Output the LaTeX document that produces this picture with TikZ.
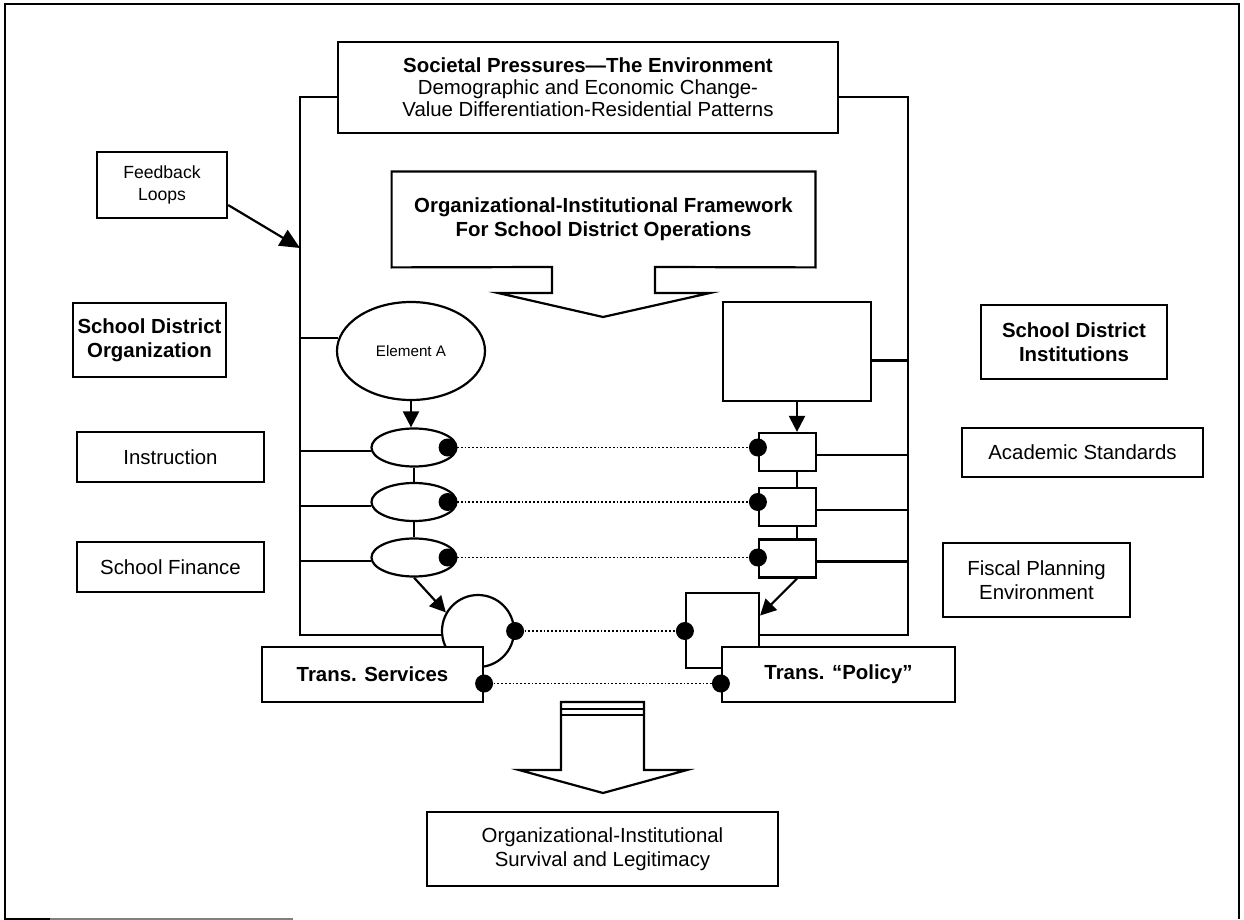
\documentclass[tikz,border=0pt]{standalone}
\usepackage{fontspec}
\setmainfont{Liberation Sans}
\usetikzlibrary{arrows.meta,shapes.geometric,positioning}
\tikzset{
    plain-box/.style = {draw, fill=white, line width=1.1pt, rectangle, align=center, inner sep=2pt, font=\fontsize{10.2}{12.2}\selectfont},
    bold-box/.style = {plain-box, font=\fontsize{10.2}{12.2}\selectfont\bfseries},
    oval/.style = {draw, fill=white, line width=1.1pt, ellipse, inner sep=0pt},
    tie/.style = {circle, fill=black, inner sep=0pt, minimum size=9pt},
    link/.style = {line width=1.1pt},
    flow/.style = {line width=1.1pt, -{Triangle[length=8pt,width=8pt]}},
    match/.style = {densely dotted, line width=0.9pt},
}

\begin{document}
\begin{tikzpicture}[x=0.5pt,y=-0.5pt]
\useasboundingbox (0,0) rectangle (1244,920);
% outer frame
\draw[line width=1.1pt] (50,919) -- (5,919) -- (5,4) -- (1239,4) -- (1239,919);
\draw[gray, line width=0.8pt] (50,919) -- (293,919);

% environment and system boundary
\node[plain-box, minimum width=250pt, minimum height=45.5pt, font=\fontsize{10.2}{11}\selectfont] (society) at (588,87.5)
    {\textbf{Societal Pressures---The Environment}\\Demographic and Economic Change-\\Value Differentiation-Residential Patterns};
\coordinate (lt) at (300,97);
\coordinate (rt) at (908,97);
\coordinate (lb) at (300,635);
\coordinate (rb) at (908,635);
\coordinate (fb-end) at (300,248);

\node[plain-box, minimum width=65pt, minimum height=33pt, font=\fontsize{8.8}{11}\selectfont] (feedback) at (162,185) {Feedback\\Loops};
\draw[line width=1.1pt, -{Triangle[length=10pt,width=9pt]}] ([yshift=-10pt]feedback.east) -- (fb-end);

% framework callout
\node[minimum width=211.5pt, minimum height=47.5pt, align=center, font=\fontsize{10.2}{12.2}\selectfont\bfseries] (framework) at (603.5,219.5)
    {Organizational-Institutional Framework\\For School District Operations};
\draw[link] (framework.south west) -- (framework.north west) -- (framework.north east) -- (framework.south east)
    -- (655,267) -- (655,293) -- (710,293) -- (603,317) -- (498,293) -- (552,293) -- (552,267) -- cycle;

% side labels
\node[bold-box, minimum width=76.5pt, minimum height=37pt] (sd-org) at (149.5,340) {School District\\Organization};
\node[plain-box, minimum width=93.5pt, minimum height=25pt] (instruction) at (170.5,457) {Instruction};
\node[plain-box, minimum width=93.5pt, minimum height=25pt] (finance) at (170.5,567) {School Finance};
\node[bold-box, minimum width=93pt, minimum height=37pt] (sd-inst) at (1074,342) {School District\\Institutions};
\node[plain-box, minimum width=120.5pt, minimum height=24.5pt] (standards) at (1082.5,452.5) {Academic Standards};
\node[plain-box, minimum width=93.5pt, minimum height=37pt] (fiscal) at (1036.5,580) {Fiscal Planning\\Environment};

% organization side
\node[oval, minimum width=74pt, minimum height=49pt, font=\fontsize{7.6}{9}\selectfont] (element-a) at (411,351) {Element A};
\node[oval, minimum width=42.5pt, minimum height=19pt] (org-1) at (414,447.5) {};
\node[oval, minimum width=42.5pt, minimum height=19pt] (org-2) at (414,502) {};
\node[oval, minimum width=42.5pt, minimum height=19pt] (org-3) at (414,557.5) {};

% institution side
\node[plain-box, minimum width=74pt, minimum height=49.5pt] (inst-top) at (797,351.5) {};
\node[plain-box, minimum width=28.5pt, minimum height=19pt] (inst-1) at (787.5,452) {};
\node[plain-box, minimum width=28.5pt, minimum height=19pt] (inst-2) at (787.5,507) {};
\node[plain-box, minimum width=28.5pt, minimum height=19pt] (inst-3) at (787.5,558.5) {};

% transactions
\node[oval, circle, minimum size=36pt] (trans-circle) at (478,631) {};
\node[plain-box, minimum width=36.5pt, minimum height=37.5pt] (policy-box) at (722.5,630.5) {};
\node[bold-box, minimum width=110.5pt, minimum height=27.5pt] (trans-serv) at (372.5,674.5) {Trans. Services};
\node[bold-box, minimum width=116.5pt, minimum height=27.5pt] (trans-policy) at (838.5,674.5) {Trans. ``Policy''};

% boundary
\draw[link] (society.west |- lt) -- (lt) -- (lb) -- (trans-circle.west |- lb);
\draw[link] (society.east |- rt) -- (rt) -- (rb) -- (policy-box.east |- rb);

% ties to the boundary
\draw[link] (element-a.170) -- (element-a.170 -| lt);
\foreach \i in {1,2,3} {
  \draw[link] (org-\i.185) -- (org-\i.185 -| lt);
  \draw[link] ([yshift=-1.5pt]inst-\i.east) -- ([yshift=-1.5pt]inst-\i.east -| rt);
  \node[tie] (org-dot-\i) at ([xshift=-5pt]org-\i.east) {};
  \node[tie] (inst-dot-\i) at (inst-\i.west |- org-dot-\i) {};
  \draw[match] (org-dot-\i) -- (inst-dot-\i);
}
\draw[link] ([yshift=-4.5pt]inst-top.east) -- ([yshift=-4.5pt]inst-top.east -| rt);

% flows
\draw[flow] (element-a.south) -- (element-a.south |- org-1.north);
\draw[link] (org-1.south) -- (org-2.north);
\draw[link] (org-2.south) -- (org-3.north);
\draw[flow] (org-3.south) -- (trans-circle.150);
\draw[flow] (inst-top.south) -- (inst-top.south |- inst-1.north);
\draw[link] (inst-1.south -| inst-top.south) -- (inst-2.north -| inst-top.south);
\draw[link] (inst-2.south -| inst-top.south) -- (inst-3.north -| inst-top.south);
\draw[flow] (inst-3.south -| inst-top.south) -- ([yshift=7.5pt]policy-box.east);

% transaction links
\node[tie] (serv-dot-a) at (trans-circle.east) {};
\node[tie] (pol-dot-a) at (policy-box.west |- serv-dot-a) {};
\draw[match] (serv-dot-a) -- (pol-dot-a);
\node[tie] (serv-dot-b) at ([yshift=-4.5pt]trans-serv.east) {};
\node[tie] (pol-dot-b) at (trans-policy.west |- serv-dot-b) {};
\draw[match] (serv-dot-b) -- (pol-dot-b);

% outcome arrow
\draw[link, fill=white] (561,702) -- (561,770) -- (519,770) -- (603,793) -- (687,770) -- (644,770) -- (644,702) -- cycle;
\draw[line width=0.8pt] (561,709) -- (644,709);
\draw[link] (561,715) -- (644,715);
\node[plain-box, minimum width=175.5pt, minimum height=37pt] (survival) at (602.5,849) {Organizational-Institutional\\Survival and Legitimacy};
\end{tikzpicture}
\end{document}
